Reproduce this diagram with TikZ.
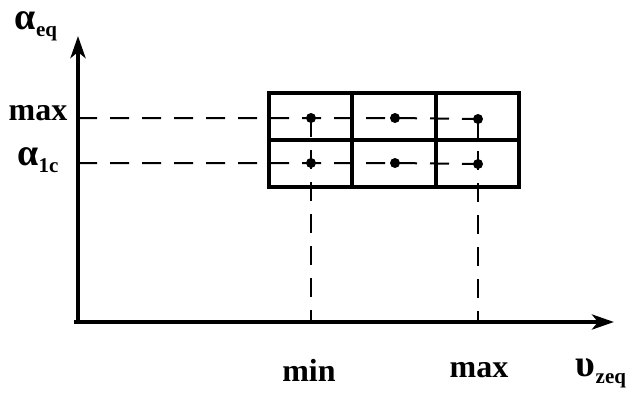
\documentclass[tikz,border=0pt]{standalone}
\usepackage{fontspec}
\setmainfont{Liberation Serif}
\usetikzlibrary{arrows.meta}
\newcommand{\bigsym}[2]{{\fontsize{38}{38}\selectfont #1}\raisebox{-7pt}{\fontsize{21}{21}\selectfont #2}}
\begin{document}
\begin{tikzpicture}[x=1pt,y=-1pt,
  lbl/.style={font=\bfseries\fontsize{32}{32}\selectfont, inner sep=0pt},
  axis/.style={line width=4pt, -{Stealth[length=22pt,width=15pt,inset=6pt]}},
  boxline/.style={line width=3.5pt},
  guide/.style={line width=2pt, dash pattern=on 19pt off 13pt},
  dotnode/.style={circle, fill=black, inner sep=0pt, minimum size=10pt}]
\useasboundingbox (0,0) rectangle (637,402);
% axes
\coordinate (O) at (78,322);
\coordinate (Ytip) at (78,36);
\coordinate (Xtip) at (614,322);
\coordinate (Xstart) at (74,322);
\draw[axis] (O) -- (Ytip);
\draw[axis] (Xstart) -- (Xtip);
% grid box
\node[draw, boxline, minimum width=83pt, minimum height=47pt, inner sep=0pt] (c11) at (310.5,116.5) {};
\node[draw, boxline, minimum width=84pt, minimum height=47pt, inner sep=0pt] (c12) at (394,116.5) {};
\node[draw, boxline, minimum width=83pt, minimum height=47pt, inner sep=0pt] (c13) at (477.5,116.5) {};
\node[draw, boxline, minimum width=83pt, minimum height=47pt, inner sep=0pt] (c21) at (310.5,163.5) {};
\node[draw, boxline, minimum width=84pt, minimum height=47pt, inner sep=0pt] (c22) at (394,163.5) {};
\node[draw, boxline, minimum width=83pt, minimum height=47pt, inner sep=0pt] (c23) at (477.5,163.5) {};
% dots
\node[dotnode] (d11) at (311,118) {};
\node[dotnode] (d12) at (395,118) {};
\node[dotnode] (d13) at (478,119) {};
\node[dotnode] (d21) at (311,163) {};
\node[dotnode] (d22) at (395,163) {};
\node[dotnode] (d23) at (478,164) {};
% dashed guide lines
\coordinate (ymax) at (78,118);
\coordinate (ylc) at (78,163);
\coordinate (xmin) at (311,322);
\coordinate (xmax) at (478,322);
\draw[guide] (ymax) -- (d11.center) -- (d12.center) -- (d13.center);
\draw[guide] (ylc) -- (d21.center) -- (d22.center) -- (d23.center);
\draw[guide] (d11.center) -- (d21.center) -- (xmin);
\draw[guide] (d13.center) -- (d23.center) -- (xmax);
% labels
\node[lbl] (lay) at (36,26) {\bigsym{α}{eq}};
\node[lbl] (lmax) at (38,113) {max};
\node[lbl] (llc) at (38,160) {\bigsym{α}{1c}};
\node[lbl] (lmin) at (309,370) {min};
\node[lbl] (lxmax) at (479,370) {max};
\node[lbl] (lax) at (601,373) {\bigsym{υ}{zeq}};
\end{tikzpicture}
\end{document}
